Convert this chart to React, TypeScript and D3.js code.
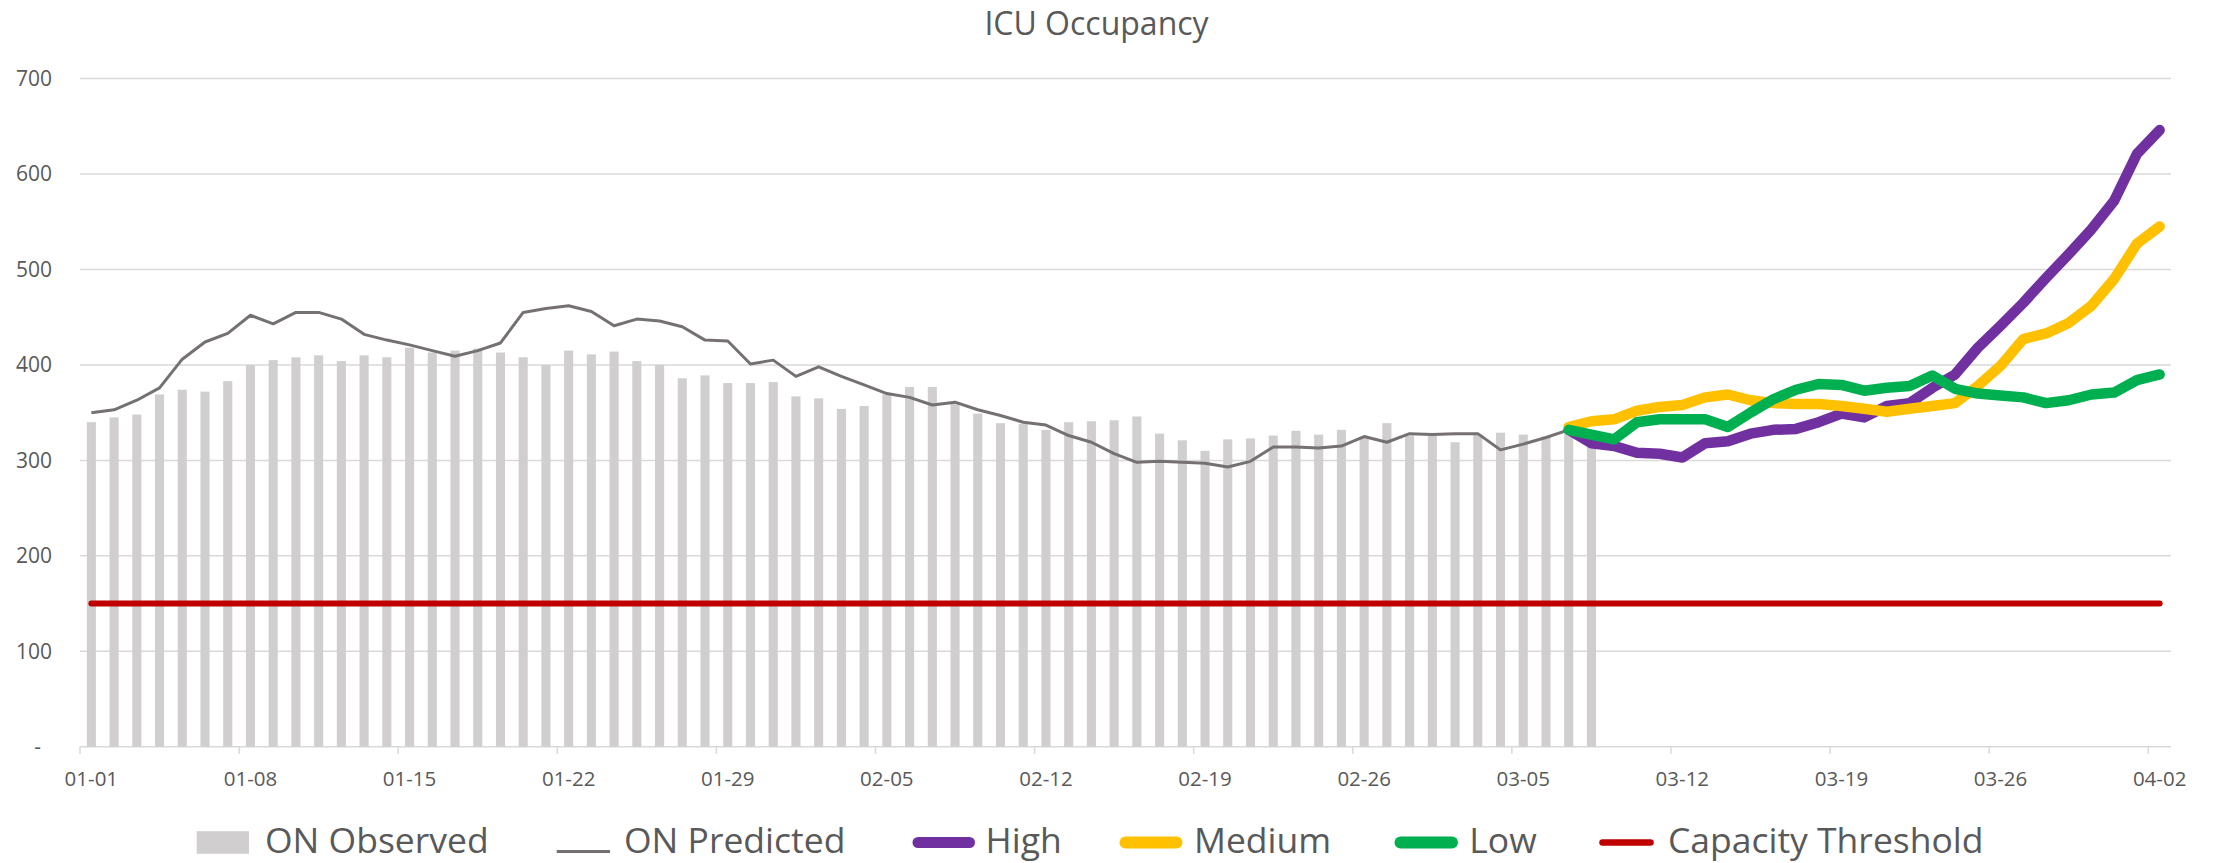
import React, { useEffect } from 'react';
import * as d3 from 'd3';

// ---------- data ----------
const TITLE = 'ICU Occupancy';
const DAY_COUNT = 92; // 01-01 .. 04-02
const TICK_LABELS = ['01-01', '01-08', '01-15', '01-22', '01-29', '02-05', '02-12', '02-19', '02-26', '03-05', '03-12', '03-19', '03-26', '04-02'];
const Y_TICKS = [0, 100, 200, 300, 400, 500, 600, 700];

// ON Observed, day 0 (01-01) .. day 66 (03-08)
const observed = [
  340, 345, 348, 369, 374, 372, 383, 400, 405, 408,
  410, 404, 410, 408, 418, 413, 415, 417, 413, 408,
  400, 415, 411, 414, 404, 400, 386, 389, 381, 381,
  382, 367, 365, 354, 357, 369, 377, 377, 360, 349,
  339, 338, 332, 340, 341, 342, 346, 328, 321, 310,
  322, 323, 326, 331, 327, 332, 325, 339, 326, 326,
  319, 327, 329, 327, 325, 328, 319,
];

// ON Predicted, day 0 .. day 65
const predicted = [
  350, 353, 363, 376, 406, 424, 433, 452, 443, 455,
  455, 448, 432, 426, 421, 415, 409, 415, 423, 455,
  459, 462, 456, 441, 448, 446, 440, 426, 425, 401,
  405, 388, 398, 388, 379, 370, 366, 358, 361, 353,
  347, 340, 337, 326, 319, 307, 298, 299, 298, 297,
  293, 299, 314, 314, 313, 315, 325, 319, 328, 327,
  328, 328, 311, 317, 324, 332,
];

// scenarios, day 65 (03-07) .. day 91 (04-02)
const SCENARIO_START = 65;
const high = [
  332, 318, 315, 308, 307, 303, 318, 320, 328, 332,
  333, 340, 349, 345, 357, 360, 376, 390, 418, 441,
  465, 491, 516, 542, 572, 621, 646,
];
const medium = [
  335, 341, 343, 352, 356, 358, 366, 369, 363, 360,
  359, 359, 357, 354, 351, 354, 357, 360, 378, 399,
  427, 433, 444, 462, 490, 527, 545,
];
const low = [
  332, 327, 322, 340, 343, 343, 343, 335, 350, 364,
  374, 380, 379, 373, 376, 378, 389, 375, 370, 368,
  366, 360, 363, 369, 371, 384, 390,
];
const CAPACITY = 150;

const SERIES_NAMES = ['ON Observed', 'ON Predicted', 'High', 'Medium', 'Low', 'Capacity Threshold'];

// ---------- styles ----------
const FONT = "'Open Sans', 'DejaVu Sans', sans-serif";
const TEXT = '#595959';
const GRID = '#D9D9D9';
const C_OBS = '#D0CECE';
const C_PRED = '#767171';
const C_HIGH = '#7030A0';
const C_MED = '#FFC000';
const C_LOW = '#00B050';
const C_CAP = '#C00000';

export default function App() {
  useEffect(() => {
    document.body.style.margin = '0';
    document.body.style.overflow = 'hidden';
  }, []);

  const W = 2213;
  const H = 863;
  const left = 80;
  const right = 2171;
  const top = 78.5;
  const bottom = 746.8;

  const days = d3.range(DAY_COUNT);
  const xCat = d3.scaleBand<number>().domain(days).range([left, right]);
  const xBar = d3
    .scaleBand<number>()
    .domain(days)
    .range([left, right])
    .paddingInner(0.6)
    .paddingOuter(0.3);
  const cx = (i: number) => (xCat(i) as number) + xCat.bandwidth() / 2;
  const y = d3.scaleLinear().domain([0, 700]).range([bottom, top]);

  const lineFrom = (offset: number) =>
    d3
      .line<number>()
      .x((_, i) => cx(i + offset))
      .y((v) => y(v));

  const capacity = days.map(() => CAPACITY);

  const legendY = 842.5;
  const legendBase = 853;

  return (
    <svg
      width={W}
      height={H}
      style={{ position: 'absolute', left: 0, top: 0, display: 'block', background: '#fff' }}
      fontFamily={FONT}
    >
      <rect x={0} y={0} width={W} height={H} fill="#fff" />
      {/* title */}
      <text x={1096.5} y={35} textAnchor="middle" fontSize={32} fill={TEXT}>
        {TITLE}
      </text>

      {/* gridlines & y labels */}
      {Y_TICKS.map((t) => (
        <g key={t}>
          <line x1={left} x2={right} y1={y(t)} y2={y(t)} stroke={GRID} strokeWidth={1.5} />
          <text
            x={t === 0 ? 41 : 52}
            y={y(t)}
            dy="0.35em"
            textAnchor="end"
            fontSize={21}
            fill={TEXT}
          >
            {t === 0 ? '-' : String(t)}
          </text>
        </g>
      ))}

      {/* x ticks and labels */}
      {TICK_LABELS.map((lab, k) => {
        const d = k * 7;
        const tx = xCat(d) as number;
        return (
          <g key={lab}>
            <line x1={tx} x2={tx} y1={y(0)} y2={y(0) + 7} stroke={GRID} strokeWidth={1.5} />
            <text x={cx(d)} y={785.7} textAnchor="middle" fontSize={20.5} fill={TEXT}>
              {lab}
            </text>
          </g>
        );
      })}

      {/* observed bars */}
      {observed.map((v, i) => (
        <rect
          key={i}
          x={xBar(i)}
          y={y(v)}
          width={xBar.bandwidth()}
          height={y(0) - y(v)}
          fill={C_OBS}
        />
      ))}

      {/* predicted */}
      <path
        d={lineFrom(0)(predicted) || ''}
        fill="none"
        stroke={C_PRED}
        strokeWidth={3}
        strokeLinejoin="round"
      />

      {/* capacity */}
      <path
        d={lineFrom(0)(capacity) || ''}
        fill="none"
        stroke={C_CAP}
        strokeWidth={6}
        strokeLinecap="round"
      />

      {/* scenarios */}
      {[
        { data: high, color: C_HIGH },
        { data: medium, color: C_MED },
        { data: low, color: C_LOW },
      ].map((s, k) => (
        <path
          key={k}
          d={lineFrom(SCENARIO_START)(s.data) || ''}
          fill="none"
          stroke={s.color}
          strokeWidth={10.5}
          strokeLinecap="round"
          strokeLinejoin="round"
        />
      ))}

      {/* legend */}
      <g fontSize={35.5} fill={TEXT}>
        <rect x={196.7} y={831.2} width={52.3} height={22.6} fill={C_OBS} />
        <text x={265} y={legendBase}>{SERIES_NAMES[0]}</text>

        <line x1={556.7} x2={610} y1={851.5} y2={851.5} stroke={C_PRED} strokeWidth={3} />
        <text x={624} y={legendBase}>{SERIES_NAMES[1]}</text>

        <line x1={918} x2={969.5} y1={legendY} y2={legendY} stroke={C_HIGH} strokeWidth={11} strokeLinecap="round" />
        <text x={985.6} y={legendBase}>{SERIES_NAMES[2]}</text>

        <line x1={1125.5} x2={1176.5} y1={legendY} y2={legendY} stroke={C_MED} strokeWidth={12} strokeLinecap="round" />
        <text x={1194} y={legendBase}>{SERIES_NAMES[3]}</text>

        <line x1={1400.5} x2={1452} y1={legendY} y2={legendY} stroke={C_LOW} strokeWidth={12} strokeLinecap="round" />
        <text x={1469.3} y={legendBase}>{SERIES_NAMES[4]}</text>

        <line x1={1602.5} x2={1650.5} y1={legendY} y2={legendY} stroke={C_CAP} strokeWidth={6.5} strokeLinecap="round" />
        <text x={1667.9} y={legendBase}>{SERIES_NAMES[5]}</text>
      </g>
    </svg>
  );
}
